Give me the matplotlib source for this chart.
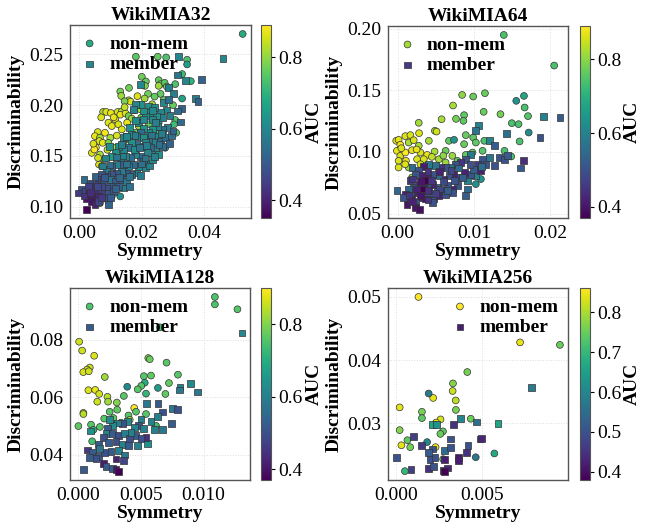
import matplotlib
matplotlib.use('Agg')
import matplotlib.pyplot as plt
from matplotlib.colors import Normalize
from matplotlib.ticker import MultipleLocator

plt.rcParams['font.family'] = ['Liberation Serif', 'DejaVu Serif']

# ---------------- WikiMIA32 ----------------
nm32 = [
    (0.0523, 0.2701, 0.68), (0.0181, 0.2477, 0.75), (0.0251, 0.2477, 0.76), (0.0278, 0.2470, 0.74),
    (0.0345, 0.2447, 0.74), (0.0345, 0.2401, 0.66), (0.0329, 0.2306, 0.72), (0.0357, 0.2236, 0.70),
    (0.0200, 0.2279, 0.77), (0.0213, 0.2233, 0.76), (0.0210, 0.2190, 0.78), (0.0254, 0.2246, 0.76),
    (0.0260, 0.2207, 0.77), (0.0273, 0.2220, 0.75), (0.0280, 0.2183, 0.76), (0.0254, 0.2190, 0.81),
    (0.0307, 0.2207, 0.74), (0.0159, 0.2170, 0.77), (0.0131, 0.2134, 0.78), (0.0134, 0.2091, 0.81),
    (0.0186, 0.2088, 0.86), (0.0220, 0.2111, 0.77), (0.0158, 0.2048, 0.82), (0.0164, 0.2035, 0.86),
    (0.0145, 0.2038, 0.78), (0.0209, 0.2065, 0.81), (0.0260, 0.2111, 0.76), (0.0233, 0.2009, 0.82),
    (0.0241, 0.2084, 0.76), (0.0329, 0.2065, 0.66), (0.0186, 0.1992, 0.87), (0.0195, 0.1959, 0.82),
    (0.0076, 0.1933, 0.82), (0.0086, 0.1933, 0.86), (0.0101, 0.1923, 0.87), (0.0123, 0.1933, 0.86),
    (0.0136, 0.1939, 0.82), (0.0131, 0.1906, 0.87), (0.0148, 0.1919, 0.86), (0.0158, 0.1893, 0.77),
    (0.0168, 0.1867, 0.81), (0.0115, 0.1860, 0.87), (0.0093, 0.1827, 0.86), (0.0104, 0.1794, 0.87),
    (0.0125, 0.1811, 0.86), (0.0153, 0.1827, 0.87), (0.0136, 0.1761, 0.86), (0.0059, 0.1735, 0.86),
    (0.0050, 0.1695, 0.87), (0.0066, 0.1679, 0.82), (0.0082, 0.1728, 0.88), (0.0064, 0.1646, 0.86),
    (0.0075, 0.1629, 0.87), (0.0099, 0.1679, 0.82), (0.0053, 0.1583, 0.87), (0.0040, 0.1530, 0.86),
    (0.0048, 0.1563, 0.89), (0.0066, 0.1514, 0.82), (0.0080, 0.1464, 0.76), (0.0063, 0.1415, 0.86),
    (0.0072, 0.1398, 0.81), (0.0307, 0.1853, 0.74), (0.0303, 0.1811, 0.72), (0.0310, 0.1728, 0.74),
    (0.0254, 0.1827, 0.68), (0.0243, 0.1728, 0.75), (0.0222, 0.1811, 0.76), (0.0198, 0.1877, 0.77),
    (0.0190, 0.1794, 0.81), (0.0179, 0.1728, 0.76), (0.0158, 0.1662, 0.81), (0.0141, 0.1629, 0.77),
    (0.0115, 0.1580, 0.82), (0.0093, 0.1629, 0.78), (0.0131, 0.1514, 0.76), (0.0275, 0.1580, 0.62),
    (0.0131, 0.1101, 0.62), (0.0066, 0.1035, 0.72), (0.0093, 0.1052, 0.62), (0.0104, 0.1101, 0.74),
    (0.0070, 0.1880, 0.86), (0.0110, 0.1880, 0.87), (0.0120, 0.1700, 0.86), (0.0090, 0.1560, 0.84),
    (0.0060, 0.1480, 0.85), (0.0045, 0.1620, 0.86), (0.0175, 0.1950, 0.83), (0.0145, 0.1980, 0.84),
    (0.0270, 0.2050, 0.77), (0.0300, 0.2000, 0.76),
]
mem32 = [
    (0.0460, 0.2461, 0.60), (0.0318, 0.2477, 0.60), (0.0314, 0.2296, 0.56), (0.0340, 0.2240, 0.60),
    (0.0391, 0.2256, 0.52), (0.0286, 0.2174, 0.58), (0.0302, 0.2117, 0.58), (0.0372, 0.2065, 0.58),
    (0.0380, 0.2035, 0.52), (0.0196, 0.2200, 0.60), (0.0197, 0.2009, 0.62), (0.0179, 0.2005, 0.60),
    (0.0270, 0.2025, 0.60), (0.0286, 0.2052, 0.54), (0.0278, 0.1952, 0.60), (0.0327, 0.1966, 0.52),
    (0.0313, 0.1943, 0.54), (0.0324, 0.1834, 0.53), (0.0227, 0.1926, 0.62), (0.0259, 0.1926, 0.60),
    (0.0267, 0.1877, 0.58), (0.0246, 0.1893, 0.62), (0.0233, 0.1860, 0.60), (0.0211, 0.1893, 0.63),
    (0.0190, 0.1827, 0.62), (0.0281, 0.1778, 0.58), (0.0267, 0.1761, 0.55), (0.0249, 0.1787, 0.60),
    (0.0233, 0.1761, 0.62), (0.0222, 0.1728, 0.60), (0.0206, 0.1768, 0.62), (0.0195, 0.1728, 0.54),
    (0.0249, 0.1695, 0.60), (0.0259, 0.1646, 0.53), (0.0275, 0.1679, 0.54), (0.0238, 0.1629, 0.60),
    (0.0222, 0.1662, 0.54), (0.0206, 0.1679, 0.62), (0.0184, 0.1695, 0.55), (0.0168, 0.1712, 0.62),
    (0.0152, 0.1695, 0.54), (0.0141, 0.1679, 0.60), (0.0243, 0.1563, 0.60), (0.0227, 0.1580, 0.53),
    (0.0217, 0.1530, 0.60), (0.0200, 0.1596, 0.62), (0.0184, 0.1613, 0.55), (0.0168, 0.1629, 0.62),
    (0.0158, 0.1580, 0.55), (0.0141, 0.1563, 0.60), (0.0125, 0.1596, 0.63), (0.0115, 0.1530, 0.62),
    (0.0104, 0.1497, 0.64), (0.0195, 0.1497, 0.53), (0.0179, 0.1514, 0.60), (0.0163, 0.1481, 0.54),
    (0.0147, 0.1497, 0.60), (0.0131, 0.1464, 0.54), (0.0220, 0.1431, 0.60), (0.0206, 0.1448, 0.54),
    (0.0190, 0.1398, 0.60), (0.0174, 0.1415, 0.53), (0.0158, 0.1398, 0.58), (0.0141, 0.1415, 0.52),
    (0.0120, 0.1415, 0.58), (0.0104, 0.1398, 0.52), (0.0088, 0.1365, 0.58), (0.0184, 0.1332, 0.60),
    (0.0168, 0.1316, 0.52), (0.0152, 0.1332, 0.50), (0.0136, 0.1349, 0.57), (0.0120, 0.1332, 0.50),
    (0.0104, 0.1316, 0.49), (0.0088, 0.1299, 0.50), (0.0072, 0.1316, 0.48), (0.0061, 0.1266, 0.47),
    (0.0077, 0.1250, 0.49), (0.0099, 0.1266, 0.56), (0.0115, 0.1250, 0.50), (0.0136, 0.1266, 0.51),
    (0.0152, 0.1250, 0.57), (0.0141, 0.1184, 0.58), (0.0125, 0.1200, 0.52), (0.0104, 0.1200, 0.49),
    (0.0088, 0.1184, 0.48), (0.0072, 0.1200, 0.47), (0.0050, 0.1217, 0.46), (0.0034, 0.1233, 0.47),
    (0.0015, 0.1266, 0.54), (0.0040, 0.1184, 0.41), (0.0056, 0.1151, 0.42), (0.0072, 0.1134, 0.45),
    (0.0093, 0.1134, 0.49), (0.0109, 0.1151, 0.50), (0.0008, 0.1174, 0.48), (-0.0003, 0.1134, 0.44),
    (0.0020, 0.1151, 0.47), (0.0029, 0.1118, 0.40), (0.0045, 0.1101, 0.39), (0.0061, 0.1101, 0.41),
    (0.0082, 0.1085, 0.48), (0.0024, 0.1075, 0.38), (0.0040, 0.1052, 0.38), (0.0050, 0.1019, 0.40),
    (0.0024, 0.0976, 0.35), (0.0093, 0.1019, 0.52), (0.0061, 0.1052, 0.46), (0.0211, 0.1382, 0.60),
    (0.0233, 0.1464, 0.60), (0.0254, 0.1514, 0.62), (0.0265, 0.1596, 0.54), (0.0213, 0.1629, 0.60),
    (0.0177, 0.1563, 0.61), (0.0222, 0.1992, 0.62), (0.0241, 0.1976, 0.61), (0.0206, 0.1943, 0.62),
    (0.0174, 0.1959, 0.60),
    (0.0150, 0.1690, 0.60), (0.0178, 0.1700, 0.58), (0.0232, 0.1705, 0.56), (0.0262, 0.1720, 0.58),
    (0.0296, 0.1700, 0.55), (0.0300, 0.1745, 0.52), (0.0096, 0.1590, 0.62), (0.0135, 0.1610, 0.58),
    (0.0192, 0.1585, 0.56), (0.0215, 0.1600, 0.58), (0.0255, 0.1610, 0.55), (0.0288, 0.1620, 0.52),
    (0.0085, 0.1480, 0.60), (0.0118, 0.1490, 0.56), (0.0140, 0.1500, 0.58), (0.0210, 0.1480, 0.56),
    (0.0240, 0.1495, 0.58), (0.0075, 0.1400, 0.58), (0.0098, 0.1410, 0.54), (0.0150, 0.1420, 0.56),
    (0.0200, 0.1420, 0.55), (0.0225, 0.1400, 0.58), (0.0050, 0.1300, 0.52), (0.0080, 0.1285, 0.50),
    (0.0128, 0.1290, 0.53), (0.0160, 0.1300, 0.56), (0.0195, 0.1310, 0.57), (0.0030, 0.1200, 0.45),
    (0.0058, 0.1195, 0.47), (0.0115, 0.1180, 0.52), (0.0160, 0.1200, 0.55), (0.0015, 0.1105, 0.43),
    (0.0035, 0.1140, 0.42), (0.0070, 0.1090, 0.44), (0.0100, 0.1090, 0.50), (0.0205, 0.1860, 0.60),
    (0.0245, 0.1830, 0.58), (0.0290, 0.1900, 0.58), (0.0235, 0.1950, 0.60), (0.0160, 0.1780, 0.62),
    (0.0180, 0.1850, 0.61),
]

# ---------------- WikiMIA64 ----------------
nm64 = [
    (0.00727, 0.1376, 0.82), (0.01392, 0.1948, 0.74), (0.02052, 0.1700, 0.74), (0.00846, 0.1462, 0.80),
    (0.00991, 0.1449, 0.77), (0.01145, 0.1476, 0.77), (0.01656, 0.1454, 0.68), (0.01555, 0.1414, 0.64),
    (0.01665, 0.1360, 0.74), (0.01128, 0.1325, 0.77), (0.01348, 0.1306, 0.78), (0.01709, 0.1290, 0.75),
    (0.00278, 0.1236, 0.82), (0.00577, 0.1265, 0.82), (0.00766, 0.1268, 0.78), (0.00872, 0.1298, 0.76),
    (0.00863, 0.1252, 0.76), (0.01497, 0.1233, 0.74), (0.01585, 0.1225, 0.74), (0.00489, 0.1171, 0.82),
    (0.00511, 0.1165, 0.85), (0.00282, 0.1152, 0.86), (0.00894, 0.1136, 0.77), (0.00991, 0.1117, 0.76),
    (0.01718, 0.1157, 0.62), (-0.00017, 0.1090, 0.86), (0.00014, 0.1098, 0.87), (0.00102, 0.1128, 0.86),
    (0.00168, 0.1136, 0.86), (0.00036, 0.1058, 0.88), (0.00146, 0.1076, 0.82), (0.00212, 0.1095, 0.86),
    (0.00278, 0.1050, 0.82), (0.00410, 0.1090, 0.82), (0.00674, 0.1090, 0.76), (0.00740, 0.1098, 0.64),
    (0.00872, 0.1063, 0.77), (0.01026, 0.1076, 0.76), (0.01136, 0.1090, 0.74), (0.01599, 0.1085, 0.74),
    (-0.00008, 0.1009, 0.87), (0.00036, 0.0968, 0.86), (0.00102, 0.0995, 0.89), (0.00190, 0.1014, 0.87),
    (0.00300, 0.0995, 0.86), (0.00388, 0.0976, 0.87), (0.00485, 0.1003, 0.82), (0.00630, 0.1009, 0.77),
    (0.00718, 0.0968, 0.81), (0.00894, 0.0976, 0.76), (0.00982, 0.0995, 0.77), (0.01114, 0.1009, 0.75),
    (0.01401, 0.1009, 0.74), (0.01489, 0.0963, 0.74), (0.00014, 0.0928, 0.86), (0.00110, 0.0928, 0.87),
    (0.00256, 0.0941, 0.86), (0.00344, 0.0941, 0.86), (0.00014, 0.0874, 0.86), (0.00146, 0.0874, 0.81),
    (0.00542, 0.0941, 0.82), (0.00630, 0.0914, 0.81), (0.00784, 0.0928, 0.76), (0.01004, 0.0834, 0.75),
    (0.01092, 0.0780, 0.64), (0.01026, 0.0739, 0.64), (0.00542, 0.0847, 0.77), (0.00190, 0.0793, 0.80),
    (0.00432, 0.0793, 0.76), (0.00050, 0.1030, 0.86), (0.00250, 0.1020, 0.87), (0.00450, 0.0960, 0.84),
    (0.00600, 0.0970, 0.80), (0.00100, 0.0900, 0.86), (0.00300, 0.0900, 0.85),
]
mem64 = [
    (0.00168, 0.0766, 0.46), (0.02127, 0.1279, 0.52), (0.01907, 0.1287, 0.60), (0.01867, 0.1117, 0.50),
    (0.01651, 0.0928, 0.44), (0.01607, 0.0869, 0.52), (0.01431, 0.1149, 0.56), (0.01062, 0.1212, 0.60),
    (0.01018, 0.1176, 0.57), (0.01202, 0.1090, 0.60), (0.01269, 0.1050, 0.52), (0.01335, 0.0955, 0.50),
    (0.01401, 0.0941, 0.50), (0.01445, 0.0968, 0.52), (0.01269, 0.0887, 0.50), (0.01202, 0.0955, 0.58),
    (0.01114, 0.0941, 0.50), (0.01048, 0.0901, 0.46), (0.00960, 0.0982, 0.58), (0.00894, 0.0941, 0.50),
    (0.00828, 0.0914, 0.45), (0.00762, 0.0901, 0.50), (0.00696, 0.0874, 0.57), (0.00630, 0.0874, 0.50),
    (0.00564, 0.0874, 0.45), (0.00498, 0.0887, 0.57), (0.00410, 0.0895, 0.58), (0.00344, 0.0879, 0.41),
    (0.00278, 0.0847, 0.50), (0.00190, 0.0874, 0.55), (0.01026, 0.0806, 0.60), (0.00916, 0.0766, 0.60),
    (0.00960, 0.0820, 0.50), (0.00872, 0.0834, 0.42), (0.00806, 0.0793, 0.50), (0.00740, 0.0820, 0.42),
    (0.00674, 0.0807, 0.50), (0.00608, 0.0780, 0.42), (0.00542, 0.0807, 0.55), (0.00454, 0.0820, 0.50),
    (0.00388, 0.0793, 0.42), (0.00322, 0.0807, 0.42), (0.00234, 0.0820, 0.50), (0.00916, 0.0699, 0.55),
    (0.00894, 0.0645, 0.52), (0.00784, 0.0725, 0.50), (0.00718, 0.0699, 0.42), (0.00652, 0.0725, 0.50),
    (0.00586, 0.0685, 0.50), (0.00520, 0.0712, 0.58), (0.00454, 0.0739, 0.42), (0.00388, 0.0712, 0.50),
    (0.00344, 0.0753, 0.42), (0.00278, 0.0725, 0.46), (0.00212, 0.0712, 0.50), (0.00146, 0.0699, 0.54),
    (-0.00008, 0.0685, 0.54), (0.00102, 0.0658, 0.42), (0.00190, 0.0645, 0.50), (0.00256, 0.0672, 0.42),
    (0.00322, 0.0631, 0.42), (0.00388, 0.0658, 0.50), (0.00476, 0.0618, 0.50), (0.00542, 0.0645, 0.42),
    (0.00630, 0.0658, 0.50), (0.00718, 0.0672, 0.50), (0.00080, 0.0631, 0.50), (0.00124, 0.0577, 0.40),
    (0.00168, 0.0618, 0.42), (0.00234, 0.0591, 0.50), (0.00234, 0.0550, 0.40), (0.00287, 0.0536, 0.39),
    (0.00366, 0.0618, 0.40), (0.00454, 0.0591, 0.50), (0.01158, 0.0901, 0.50), (0.01092, 0.0847, 0.42),
    (0.00322, 0.0699, 0.37), (0.00410, 0.0685, 0.38), (0.00366, 0.0766, 0.37),
    (0.0020, 0.0780, 0.45), (0.0030, 0.0760, 0.40), (0.0045, 0.0770, 0.45), (0.0060, 0.0760, 0.48),
    (0.0075, 0.0770, 0.50), (0.0085, 0.0790, 0.52), (0.0040, 0.0840, 0.45), (0.0055, 0.0840, 0.42),
    (0.0070, 0.0850, 0.48), (0.0080, 0.0870, 0.55), (0.0025, 0.0700, 0.42), (0.0040, 0.0690, 0.45),
    (0.0055, 0.0700, 0.48), (0.0065, 0.0690, 0.52), (0.0015, 0.0650, 0.45), (0.0030, 0.0650, 0.40),
    (0.0050, 0.0660, 0.47), (0.0020, 0.0600, 0.42), (0.0040, 0.0610, 0.45), (0.0100, 0.0860, 0.52),
    (0.0110, 0.0880, 0.55), (0.0095, 0.0900, 0.50),
]

# ---------------- WikiMIA128 ----------------
nm128 = [
    (0.0109, 0.0950, 0.75), (0.0109, 0.0924, 0.75), (0.0127, 0.0907, 0.76), (0.00651, 0.0844, 0.75),
    (0.00006, 0.0794, 0.86), (0.0003, 0.0763, 0.86), (0.00126, 0.0745, 0.87), (0.00558, 0.0737, 0.80),
    (0.0057, 0.0733, 0.78), (0.00704, 0.0721, 0.76), (0.00091, 0.0704, 0.86), (0.00069, 0.0697, 0.86),
    (0.00039, 0.0688, 0.87), (0.00083, 0.0691, 0.86), (0.00211, 0.0671, 0.82), (0.00523, 0.0674, 0.76),
    (0.0058, 0.0676, 0.77), (0.0053, 0.0651, 0.70), (0.00502, 0.0640, 0.76), (0.00474, 0.0628, 0.76),
    (0.0039, 0.0637, 0.62), (0.00635, 0.0633, 0.66), (0.00795, 0.0679, 0.76), (0.00723, 0.0650, 0.77),
    (0.00695, 0.0612, 0.77), (0.0054, 0.0613, 0.72), (0.0008, 0.0625, 0.87), (0.00134, 0.0626, 0.88),
    (0.00166, 0.0612, 0.86), (0.00151, 0.0585, 0.86), (0.00232, 0.0602, 0.84), (0.00237, 0.0585, 0.82),
    (0.00307, 0.0582, 0.80), (0.00363, 0.0605, 0.76), (0.00446, 0.0563, 0.90), (0.0004, 0.0546, 0.86),
    (0.0004, 0.0542, 0.84), (0.0025, 0.0550, 0.76), (0.0031, 0.0557, 0.77), (0.00206, 0.0526, 0.76),
    (0.0028, 0.0528, 0.77), (0.0040, 0.0537, 0.76), (0.0041, 0.0522, 0.82), (0.0046, 0.0550, 0.76),
    (0.0054, 0.0542, 0.76), (0.0000, 0.0500, 0.77), (0.00101, 0.0505, 0.76), (0.00172, 0.0497, 0.76),
    (0.0011, 0.0447, 0.74), (0.0012, 0.0487, 0.72), (0.0034, 0.0512, 0.76), (0.0062, 0.0501, 0.74),
]
mem128 = [
    (0.00038, 0.0348, 0.52), (0.01307, 0.0824, 0.62), (0.00894, 0.0649, 0.62), (0.00952, 0.0619, 0.58),
    (0.00811, 0.0636, 0.60), (0.0081, 0.0626, 0.58), (0.00752, 0.0561, 0.58), (0.0079, 0.0557, 0.50),
    (0.00742, 0.0508, 0.52), (0.00635, 0.0580, 0.52), (0.00547, 0.0580, 0.58), (0.0067, 0.0549, 0.50),
    (0.0063, 0.0533, 0.60), (0.0058, 0.0517, 0.60), (0.0067, 0.0488, 0.58), (0.0061, 0.0489, 0.60),
    (0.0055, 0.0438, 0.64), (0.0054, 0.0459, 0.44), (0.0050, 0.0522, 0.60), (0.0048, 0.0503, 0.50),
    (0.0045, 0.0494, 0.60), (0.0039, 0.0517, 0.62), (0.0035, 0.0508, 0.50), (0.0031, 0.0511, 0.60),
    (0.0027, 0.0503, 0.62), (0.0023, 0.0492, 0.52), (0.0025, 0.0523, 0.62), (0.0022, 0.0474, 0.60),
    (0.00096, 0.0483, 0.64), (0.0027, 0.0473, 0.52), (0.0032, 0.0466, 0.50), (0.0037, 0.0474, 0.60),
    (0.0041, 0.0457, 0.50), (0.0046, 0.0468, 0.52), (0.0050, 0.0457, 0.50), (0.0020, 0.0460, 0.50),
    (0.0024, 0.0442, 0.52), (0.0030, 0.0446, 0.50), (0.0035, 0.0437, 0.60), (0.0040, 0.0431, 0.52),
    (0.0047, 0.0431, 0.60), (0.00158, 0.0437, 0.52), (0.0007, 0.0417, 0.46), (0.00111, 0.0410, 0.52),
    (0.0009, 0.0390, 0.52), (0.0016, 0.0394, 0.52), (0.0021, 0.0408, 0.50), (0.0026, 0.0412, 0.52),
    (0.0032, 0.0414, 0.60), (0.0037, 0.0399, 0.58), (0.0036, 0.0380, 0.48), (0.0030, 0.0385, 0.42),
    (0.00198, 0.0370, 0.41), (0.0022, 0.0358, 0.52), (0.0027, 0.0352, 0.52), (0.0030, 0.0349, 0.40),
    (0.00323, 0.0343, 0.37), (0.0014, 0.0386, 0.50), (0.0017, 0.0422, 0.58), (0.0042, 0.0477, 0.60),
    (0.0052, 0.0492, 0.60),
]

# ---------------- WikiMIA256 ----------------
nm256 = [
    (0.00129, 0.0500, 0.86), (0.00718, 0.0428, 0.84), (0.00949, 0.0424, 0.75), (0.00412, 0.0381, 0.76),
    (0.00329, 0.0363, 0.77), (0.00327, 0.0351, 0.82), (0.00214, 0.0340, 0.84), (0.00188, 0.0347, 0.58),
    (0.00345, 0.0336, 0.81), (0.00346, 0.0321, 0.76), (0.00020, 0.0325, 0.84), (0.00149, 0.0318, 0.76),
    (0.00149, 0.0308, 0.74), (0.00257, 0.0306, 0.83), (0.00231, 0.0301, 0.84), (0.00432, 0.0307, 0.75),
    (0.00020, 0.0289, 0.77), (0.00271, 0.0287, 0.74), (0.00256, 0.0283, 0.75), (0.00065, 0.0273, 0.74),
    (0.00179, 0.0270, 0.60), (0.00030, 0.0265, 0.84), (0.00081, 0.0262, 0.76), (0.00228, 0.0262, 0.85),
    (0.00461, 0.0246, 0.57), (0.00569, 0.0252, 0.67), (0.00050, 0.0224, 0.70), (0.00272, 0.0243, 0.73),
]
mem256 = [
    (0.00275, 0.0225, 0.42), (0.00785, 0.0357, 0.58), (0.00590, 0.0300, 0.66), (0.00371, 0.0308, 0.60),
    (0.00465, 0.0302, 0.55), (0.00208, 0.0298, 0.66), (0.00234, 0.0298, 0.62), (0.00332, 0.0298, 0.45),
    (0.00100, 0.0279, 0.47), (0.00314, 0.0275, 0.50), (0.00147, 0.0265, 0.46), (0.00208, 0.0259, 0.50),
    (0.00185, 0.0253, 0.52), (0.00282, 0.0257, 0.55), (0.00314, 0.0262, 0.50), (0.00416, 0.0265, 0.50),
    (0.00408, 0.0254, 0.45), (0.00486, 0.0275, 0.53), (0.00496, 0.0276, 0.43), (0.00000, 0.0245, 0.50),
    (0.00196, 0.0243, 0.50), (0.00225, 0.0246, 0.50), (0.00282, 0.0243, 0.42), (0.00363, 0.0246, 0.41),
    (0.00363, 0.0241, 0.42), (0.00086, 0.0226, 0.47), (0.00185, 0.0228, 0.45), (0.00216, 0.0231, 0.50),
    (0.00296, 0.0229, 0.43), (0.00282, 0.0224, 0.38),
]

titles = ['WikiMIA32', 'WikiMIA64', 'WikiMIA128', 'WikiMIA256']
x_steps = [0.02, 0.01, 0.005, 0.005]
y_steps = [0.05, 0.05, 0.02, 0.01]
cb_steps = [0.2, 0.2, 0.2, 0.1]

fig = plt.figure(figsize=(6.5, 5.25), dpi=100)

panels = [(nm32, mem32), (nm64, mem64), (nm128, mem128), (nm256, mem256)]
# axes rectangles in figure fractions
ax_pos = [
    [0.108, 0.585, 0.278, 0.367],
    [0.597, 0.585, 0.277, 0.365],
    [0.108, 0.086, 0.277, 0.365],
    [0.597, 0.086, 0.277, 0.365],
]
cb_x = [0.402, 0.892, 0.402, 0.892]

for i, (nm, mem) in enumerate(panels):
    ax = fig.add_axes(ax_pos[i])
    all_auc = [p[2] for p in nm] + [p[2] for p in mem]
    norm = Normalize(min(all_auc), max(all_auc))
    sc = ax.scatter([p[0] for p in nm], [p[1] for p in nm], c=[p[2] for p in nm],
                    cmap='viridis', norm=norm, marker='o', s=24,
                    edgecolors='#333333', linewidths=0.5, label='non-mem')
    ax.scatter([p[0] for p in mem], [p[1] for p in mem], c=[p[2] for p in mem],
               cmap='viridis', norm=norm, marker='s', s=24,
               edgecolors='#333333', linewidths=0.5, label='member')
    ax.set_title(titles[i], fontsize=14, fontweight='bold', pad=4)
    ax.set_xlabel('Symmetry', fontsize=14, fontweight='bold', labelpad=1)
    ax.set_ylabel('Discriminability', fontsize=14, fontweight='bold', labelpad=3)
    ax.xaxis.set_major_locator(MultipleLocator(x_steps[i]))
    ax.yaxis.set_major_locator(MultipleLocator(y_steps[i]))
    ax.tick_params(labelsize=14, length=0, pad=5)
    ax.grid(True, linestyle=':', color='0.87', linewidth=0.7)
    ax.set_axisbelow(True)
    for sp in ax.spines.values():
        sp.set_color('#555555')
        sp.set_linewidth(1.0)
    loc = 'upper right' if i == 3 else 'upper left'
    ax.legend(loc=loc, frameon=False, prop={'weight': 'bold', 'size': 14},
              handlelength=1.0, handletextpad=0.5, labelspacing=0.15,
              borderaxespad=0.2, borderpad=0.3)

    cax = fig.add_axes([cb_x[i], ax_pos[i][1], 0.0155, ax_pos[i][3]])
    cb = fig.colorbar(sc, cax=cax)
    cb.ax.yaxis.set_major_locator(MultipleLocator(cb_steps[i]))
    cb.set_label('AUC', fontsize=14, fontweight='bold', labelpad=2)
    cb.ax.tick_params(labelsize=14, length=3, width=0.8, pad=2)
    cb.outline.set_edgecolor('#555555')
    cb.outline.set_linewidth(0.8)

fig.savefig('out.png', dpi=100)
